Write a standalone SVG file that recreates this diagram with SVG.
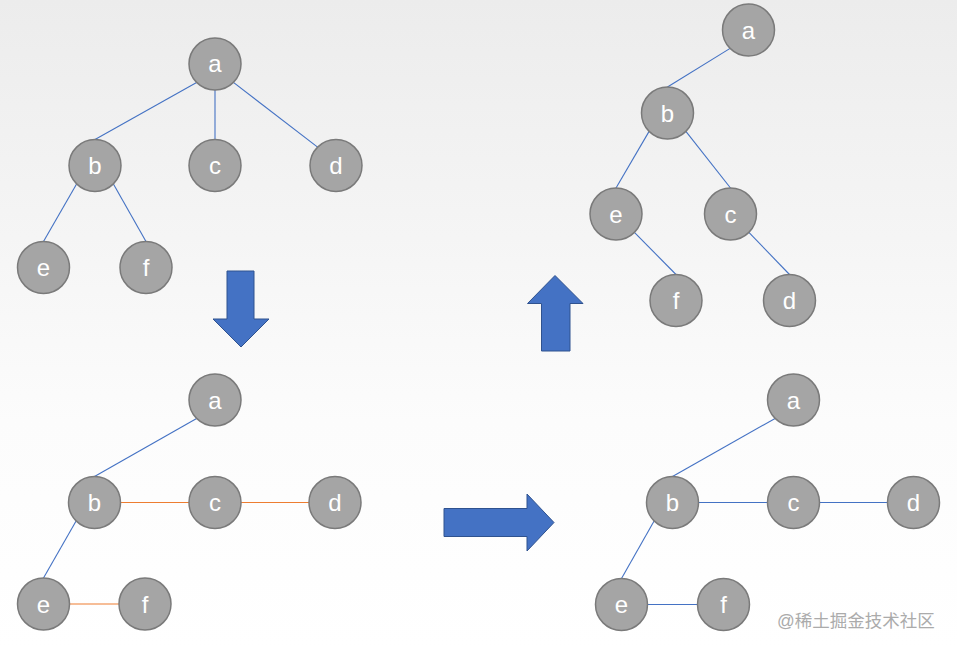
<svg xmlns="http://www.w3.org/2000/svg" width="957" height="649" viewBox="0 0 957 649">
<defs>
<linearGradient id="bg" x1="0" y1="0" x2="0" y2="1">
<stop offset="0" stop-color="#ececec"/>
<stop offset="0.65" stop-color="#fcfcfc"/>
<stop offset="1" stop-color="#ffffff"/>
</linearGradient>
</defs>
<style>
.n circle{fill:#a5a5a5;stroke:#7a7a7a;stroke-width:1.5}
.n text{fill:#ffffff;font-family:"Liberation Sans","DejaVu Sans",sans-serif;font-size:24px;text-anchor:middle}
.b{stroke:#4472c4;stroke-width:1.1;fill:none}
.o{stroke:#ed7d31;stroke-width:1.1;fill:none}
.arr{fill:#4472c4;stroke:#2f528f;stroke-width:1}
.wm{fill:#ababab;font-family:"Liberation Sans","Noto Sans CJK SC",sans-serif;font-size:17.5px}
</style>
<rect x="0" y="0" width="957" height="649" fill="url(#bg)"/>

<g id="connectors">
<!-- top-left tree -->
<line class="b" x1="196.6" y1="82.4" x2="95" y2="139.5"/>
<line class="b" x1="215" y1="90" x2="215" y2="139.5"/>
<line class="b" x1="233.4" y1="82.4" x2="317.6" y2="147.1"/>
<line class="b" x1="76.6" y1="183.9" x2="43.5" y2="241.5"/>
<line class="b" x1="113.4" y1="183.9" x2="146" y2="241.5"/>
<!-- bottom-left tree -->
<line class="b" x1="196.6" y1="418.4" x2="94.5" y2="476.5"/>
<line class="o" x1="120.5" y1="502.5" x2="189" y2="502.5"/>
<line class="o" x1="241" y1="502.5" x2="309" y2="502.5"/>
<line class="b" x1="76.1" y1="520.9" x2="43.5" y2="578"/>
<line class="o" x1="69.5" y1="604" x2="119" y2="604"/>
<!-- top-right tree -->
<line class="b" x1="730.1" y1="48.4" x2="667.5" y2="87"/>
<line class="b" x1="649.1" y1="131.4" x2="616" y2="188"/>
<line class="b" x1="685.9" y1="131.4" x2="730.5" y2="188"/>
<line class="b" x1="634.4" y1="232.4" x2="676" y2="274.5"/>
<line class="b" x1="748.9" y1="232.4" x2="789.5" y2="274.5"/>
<!-- bottom-right tree -->
<line class="b" x1="775.1" y1="418.4" x2="672.5" y2="476.5"/>
<line class="b" x1="698.5" y1="502.5" x2="767.5" y2="502.5"/>
<line class="b" x1="819.5" y1="502.5" x2="887.5" y2="502.5"/>
<line class="b" x1="654.1" y1="520.9" x2="621.5" y2="578.5"/>
<line class="b" x1="647.5" y1="604.5" x2="697.5" y2="604.5"/>
</g>

<g id="arrows">
<polygon id="arrow-down" class="arr" points="227,271 254,271 254,319 269,319 241,347 213,319 227,319"/>
<polygon id="arrow-right" class="arr" points="444,508.5 527,508.5 527,494 554,522.5 527,551 527,536.5 444,536.5"/>
<polygon id="arrow-up" class="arr" points="555,275.5 583,303.5 570,303.5 570,351 541.5,351 541.5,303.5 527.5,303.5"/>
</g>

<!-- top-left tree nodes -->
<g id="tl-a" class="n"><circle cx="215" cy="64" r="26"/><text x="215" y="72">a</text></g>
<g id="tl-b" class="n"><circle cx="95" cy="165.5" r="26"/><text x="95" y="174">b</text></g>
<g id="tl-c" class="n"><circle cx="215" cy="165.5" r="26"/><text x="215" y="174">c</text></g>
<g id="tl-d" class="n"><circle cx="336" cy="165.5" r="26"/><text x="336" y="174">d</text></g>
<g id="tl-e" class="n"><circle cx="43.5" cy="267.5" r="26"/><text x="43.5" y="276">e</text></g>
<g id="tl-f" class="n"><circle cx="146" cy="267.5" r="26"/><text x="146" y="276">f</text></g>

<!-- bottom-left tree nodes -->
<g id="bl-a" class="n"><circle cx="215" cy="400" r="26"/><text x="215" y="408.5">a</text></g>
<g id="bl-b" class="n"><circle cx="94.5" cy="502.5" r="26"/><text x="94.5" y="511">b</text></g>
<g id="bl-c" class="n"><circle cx="215" cy="502.5" r="26"/><text x="215" y="511">c</text></g>
<g id="bl-d" class="n"><circle cx="335" cy="502.5" r="26"/><text x="335" y="511">d</text></g>
<g id="bl-e" class="n"><circle cx="43.5" cy="604" r="26"/><text x="43.5" y="612.5">e</text></g>
<g id="bl-f" class="n"><circle cx="145" cy="604" r="26"/><text x="145" y="612.5">f</text></g>

<!-- top-right tree nodes -->
<g id="tr-a" class="n"><circle cx="748.5" cy="30" r="26"/><text x="748.5" y="38.5">a</text></g>
<g id="tr-b" class="n"><circle cx="667.5" cy="113" r="26"/><text x="667.5" y="121.5">b</text></g>
<g id="tr-e" class="n"><circle cx="616" cy="214" r="26"/><text x="616" y="222.5">e</text></g>
<g id="tr-c" class="n"><circle cx="730.5" cy="214" r="26"/><text x="730.5" y="222.5">c</text></g>
<g id="tr-f" class="n"><circle cx="676" cy="300.5" r="26"/><text x="676" y="309">f</text></g>
<g id="tr-d" class="n"><circle cx="789.5" cy="300.5" r="26"/><text x="789.5" y="309">d</text></g>

<!-- bottom-right tree nodes -->
<g id="br-a" class="n"><circle cx="793.5" cy="400" r="26"/><text x="793.5" y="408.5">a</text></g>
<g id="br-b" class="n"><circle cx="672.5" cy="502.5" r="26"/><text x="672.5" y="511">b</text></g>
<g id="br-c" class="n"><circle cx="793.5" cy="502.5" r="26"/><text x="793.5" y="511">c</text></g>
<g id="br-d" class="n"><circle cx="913.5" cy="502.5" r="26"/><text x="913.5" y="511">d</text></g>
<g id="br-e" class="n"><circle cx="621.5" cy="604.5" r="26"/><text x="621.5" y="613">e</text></g>
<g id="br-f" class="n"><circle cx="723.5" cy="604.5" r="26"/><text x="723.5" y="613">f</text></g>

<text class="wm" x="777" y="626.5">@稀土掘金技术社区</text>
</svg>
